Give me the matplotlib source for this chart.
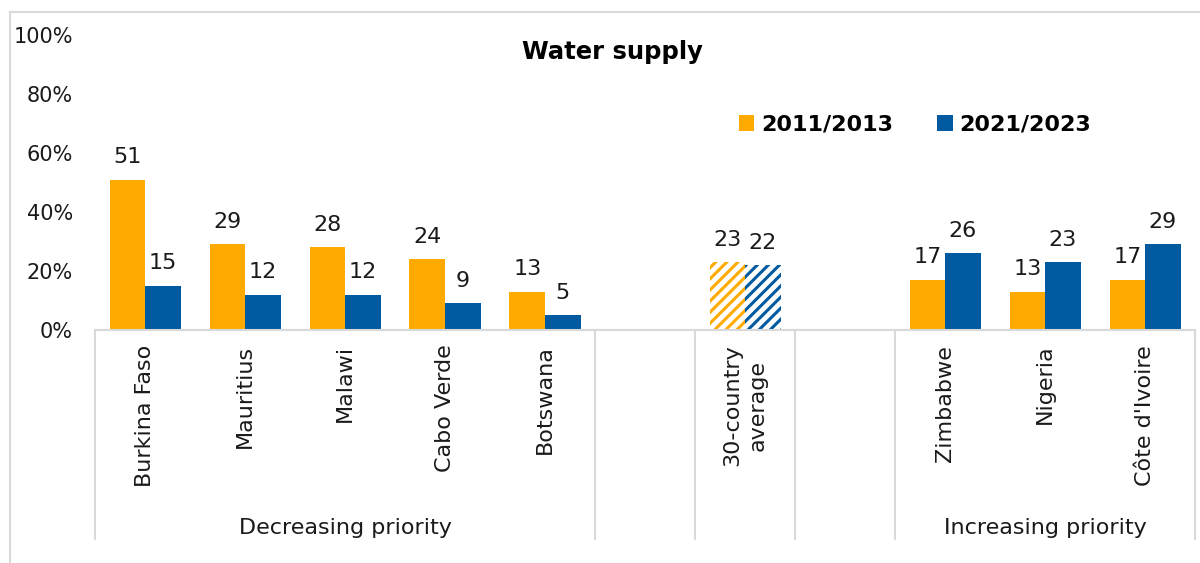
import matplotlib.pyplot as plt
import matplotlib.transforms as mtransforms
import numpy as np

plt.rcParams['font.family'] = ['DejaVu Sans']
plt.rcParams['hatch.linewidth'] = 2.2

# данные (доли в %)
decreasing = ['Burkina Faso', 'Mauritius', 'Malawi', 'Cabo Verde', 'Botswana']
dec_2011 = [51, 29, 28, 24, 13]
dec_2021 = [15, 12, 12, 9, 5]

average_label = '30-country\naverage'
avg_2011 = 23
avg_2021 = 22

increasing = ['Zimbabwe', 'Nigeria', "Côte d'Ivoire"]
inc_2011 = [17, 13, 17]
inc_2021 = [26, 23, 29]

series_names = ['2011/2013', '2021/2023']
group_names = ['Decreasing priority', 'Increasing priority']
yticks = [0, 20, 40, 60, 80, 100]

orange = '#FFAA00'
blue = '#005AA0'
grey = '#D9D9D9'
txt = '#1a1a1a'

# позиции: группа, пустой слот, среднее, пустой слот, группа
x_dec = np.arange(len(decreasing))
x_avg = len(decreasing) + 1
x_inc = x_avg + 2 + np.arange(len(increasing))
n_slots = x_inc[-1] + 1

fig = plt.figure(figsize=(12, 5.63), dpi=100)
ax = fig.add_axes([95 / 1200, 233 / 563, 1100 / 1200, 295 / 563])

w = 0.355
b1 = ax.bar(np.r_[x_dec, x_inc] - w / 2, dec_2011 + inc_2011, w, color=orange, label=series_names[0])
b2 = ax.bar(np.r_[x_dec, x_inc] + w / 2, dec_2021 + inc_2021, w, color=blue, label=series_names[1])
h1 = ax.bar(x_avg - w / 2, avg_2011, w, facecolor='white', edgecolor=orange, hatch='///', lw=0)
h2 = ax.bar(x_avg + w / 2, avg_2021, w, facecolor='white', edgecolor=blue, hatch='///', lw=0)

fs = 15
fs_cat = 16
for bars in (b1, b2, h1, h2):
    for r in bars:
        ax.annotate(f'{r.get_height():.0f}', (r.get_x() + r.get_width() / 2, r.get_height()),
                    xytext=(0, 9), textcoords='offset points', ha='center', va='bottom',
                    fontsize=fs_cat, color=txt)

ax.set_xlim(-0.5, n_slots - 0.5)
ax.set_ylim(0, 100)
ax.set_yticks(yticks)
ax.set_yticklabels([f'{t}%' for t in yticks], fontsize=fs, color=txt)
ax.tick_params(axis='y', length=0, pad=16)
ax.set_xticks([])
for s in ['top', 'right', 'left']:
    ax.spines[s].set_visible(False)
ax.spines['bottom'].set_color(grey)
ax.spines['bottom'].set_linewidth(1.5)

# подписи категорий и групп
tr = mtransforms.blended_transform_factory(ax.transData, ax.transAxes)
labels = decreasing + [average_label] + increasing
xs = list(x_dec) + [x_avg] + list(x_inc)
for x, lab in zip(xs, labels):
    ax.text(x, -0.05, lab, transform=tr, rotation=90, ha='center', va='top',
            fontsize=fs_cat, color=txt, linespacing=1.3, multialignment='center')
ax.text(x_dec.mean(), -0.67, group_names[0], transform=tr, ha='center', va='center',
        fontsize=fs_cat, color=txt)
ax.text(x_inc.mean(), -0.67, group_names[1], transform=tr, ha='center', va='center',
        fontsize=fs_cat, color=txt)

for xb in [-0.5, x_dec[-1] + 0.5, x_avg - 0.5, x_avg + 0.5, x_inc[0] - 0.5, n_slots - 0.5]:
    ax.plot([xb, xb], [0, -0.71], transform=tr, color=grey, lw=1.5, clip_on=False)

fig.text(612 / 1200, 1 - 52 / 563, 'Water supply', ha='center', va='center',
         fontsize=17.5, fontweight='bold')

ax.legend(handles=[b1, b2], loc='center', bbox_to_anchor=(915 / 1200, 1 - 125 / 563),
          bbox_transform=fig.transFigure, ncol=2, frameon=False, handlelength=0.7,
          handleheight=0.7, handletextpad=0.3, columnspacing=2.0,
          prop={'size': 16, 'weight': 'bold'})

# внешняя рамка
fig.add_artist(plt.Line2D([10 / 1200, 10 / 1200], [0, 1 - 12 / 563], color=grey, lw=1.5))
fig.add_artist(plt.Line2D([10 / 1200, 1], [1 - 12 / 563, 1 - 12 / 563], color=grey, lw=1.5))

fig.savefig('out.png', dpi=100)
